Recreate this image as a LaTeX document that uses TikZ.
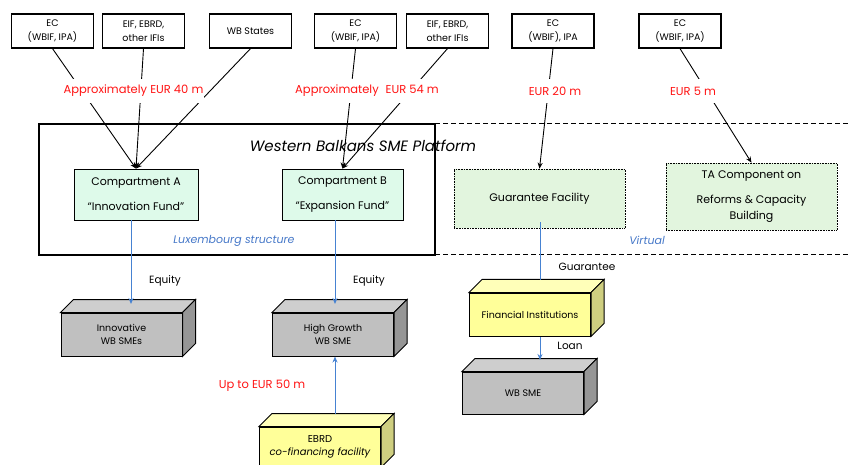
\documentclass[tikz,border=0pt]{standalone}
\usepackage{fontspec}
\setmainfont{Poppins}
\usetikzlibrary{arrows.meta,calc}
\definecolor{compfill}{RGB}{222,250,234}
\definecolor{virtfill}{RGB}{226,245,222}
\definecolor{grayfront}{RGB}{192,192,192}
\definecolor{graytop}{RGB}{206,206,206}
\definecolor{grayside}{RGB}{150,150,150}
\definecolor{yelfront}{RGB}{255,255,153}
\definecolor{yeltop}{RGB}{255,255,185}
\definecolor{yelside}{RGB}{206,206,128}
\definecolor{arrblue}{RGB}{70,130,210}
\definecolor{txtblue}{RGB}{70,120,200}
\definecolor{txtred}{RGB}{255,20,20}
\newcommand\cubefaces[3]{%
  \filldraw[line width=1pt,fill=#2] (#1.north west) -- ++(13,-13) -- ($(#1.north east)+(13,-13)$) -- (#1.north east) -- cycle;
  \filldraw[line width=1pt,fill=#3] (#1.north east) -- ++(13,-13) -- ($(#1.south east)+(13,-13)$) -- (#1.south east) -- cycle;
}
\begin{document}
\begin{tikzpicture}[x=1pt,y=-1pt,
  topbox/.style={draw,line width=1.2pt,minimum width=82pt,minimum height=34pt,inner sep=0pt,align=center,font=\fontsize{9.5}{14}\selectfont},
  redlab/.style={fill=white,text=txtred,inner xsep=1pt,minimum height=24pt,font=\fontsize{11.5}{13}\selectfont},
  compbox/.style={draw,line width=0.9pt,fill=compfill,minimum height=51pt,inner sep=0pt,align=center,font=\fontsize{11}{25}\selectfont},
  virtbox/.style={draw,densely dotted,line width=0.6pt,fill=virtfill,minimum width=171pt,inner sep=0pt,align=center,font=\fontsize{11}{16}\selectfont},
  cube/.style={draw,line width=1pt,minimum width=121pt,minimum height=43pt,inner sep=0pt,align=center,font=\fontsize{9.5}{13}\selectfont},
  conn/.style={line width=0.9pt,-{Stealth[length=6pt,width=5pt]}},
  blueconn/.style={draw=arrblue,line width=1pt,-{Stealth[length=6pt,width=5pt]}},
  bluelab/.style={text=txtblue,font=\fontsize{11}{13}\selectfont\itshape},
  flowlab/.style={font=\fontsize{10.5}{12}\selectfont}]
\useasboundingbox (0,0) rectangle (849,465);

% platform frame
\draw[line width=1.2pt] (39,124) rectangle (435,255);
\coordinate (dtl) at (435,124);
\coordinate (dtr) at (849,124);
\coordinate (dbl) at (435,255);
\coordinate (dbr) at (849,255);
\draw[line width=1pt,dash pattern=on 5pt off 3pt] (dtl) -- (dtr);
\draw[line width=1pt,dash pattern=on 5pt off 3pt] (dbl) -- (dbr);
\node[font=\fontsize{15}{17}\selectfont\itshape] (title) at (363,146) {Western Balkans SME Platform};
\node[bluelab] (lux) at (234,241) {Luxembourg structure};
\node[bluelab] (virt) at (647,240) {Virtual};

% sources
\node[topbox] (ec1) at (52.5,31) {EC\\(WBIF, IPA)};
\node[topbox] (eif1) at (143.5,31) {EIF, EBRD,\\other IFIs};
\node[topbox] (wbs) at (250.5,31) {WB States};
\node[topbox] (ec2) at (355.5,31) {EC\\(WBIF, IPA)};
\node[topbox] (eif2) at (447.5,31) {EIF, EBRD,\\other IFIs};
\node[topbox] (ec3) at (553,31) {EC\\(WBIF), IPA};
\node[topbox] (ec4) at (680,31) {EC\\(WBIF, IPA)};

% compartments
\node[compbox,minimum width=124pt] (compA) at (136,194.5) {Compartment A\\“Innovation Fund”};
\node[compbox,minimum width=121pt] (compB) at (342.5,194.5) {Compartment B\\“Expansion Fund”};
\node[virtbox,minimum height=59pt] (guar) at (539.5,198.5) {Guarantee Facility};
\node[virtbox,minimum height=67pt] (ta) at (751.5,196.5) {TA Component on\\[9pt]Reforms \& Capacity\\Building};

% source connectors
\draw[conn] (ec1.south) -- (compA.north);
\draw[conn] (eif1.south) -- (compA.north);
\draw[conn] (wbs.south) -- (compA.north);
\draw[conn] (ec2.south) -- (compB.north);
\draw[conn] (eif2.south) -- (compB.north);
\draw[conn] (ec3.south) -- (guar.north);
\draw[conn] (ec4.south) -- (ta.north);

\node[redlab] (l40) at (133.5,91) {Approximately EUR 40 m};
\node[redlab] (l54) at (367,91) {Approximately\hspace{0.6em}EUR 54 m};
\node[redlab] (l20) at (555,91) {EUR 20 m};
\node[redlab] (l5) at (693,91) {EUR 5 m};

% cubes
\node[cube,fill=grayfront] (innov) at (121.5,334.5) {Innovative\\WB SMEs};
\cubefaces{innov}{graytop}{grayside}
\node[cube,fill=grayfront] (hg) at (333,334.5) {High Growth\\WB SME};
\cubefaces{hg}{graytop}{grayside}
\node[cube,fill=yelfront] (fi) at (530,314.5) {Financial Institutions};
\cubefaces{fi}{yeltop}{yelside}
\node[cube,fill=grayfront,minimum height=42pt] (wbsme) at (523,393) {WB SME};
\cubefaces{wbsme}{graytop}{grayside}
\node[cube,fill=yelfront,minimum height=40pt,font=\fontsize{10}{13}\selectfont] (ebrd) at (320,447) {EBRD\\{\itshape co-financing facility}};
\cubefaces{ebrd}{yeltop}{yelside}

% flow connectors
\coordinate (innovtop) at (131,304);
\coordinate (hgtop) at (335,304);
\coordinate (ebrdtop) at (335,414);
\coordinate (fitop) at (540,280);
\coordinate (wbsmetop) at (540,360);
\draw[blueconn] (compA.south -| innovtop) -- (innovtop);
\draw[blueconn] (compB.south -| hgtop) -- (hgtop);
\draw[blueconn] (ebrdtop) -- (hg.south -| ebrdtop);
\draw[draw=arrblue,line width=1pt] ($(guar.south -| fitop)+(0,-6)$) -- (fitop);
\draw[blueconn] (fi.south -| fitop) -- (wbsmetop);

\node[flowlab] (eq1) at (165,281) {Equity};
\node[flowlab] (eq2) at (369,281) {Equity};
\node[flowlab] (gl) at (587,267) {Guarantee};
\node[flowlab] (ll) at (570,346) {Loan};
\node[text=txtred,font=\fontsize{11.5}{13}\selectfont] (l50) at (262,386) {Up to EUR 50 m};
\end{tikzpicture}
\end{document}
